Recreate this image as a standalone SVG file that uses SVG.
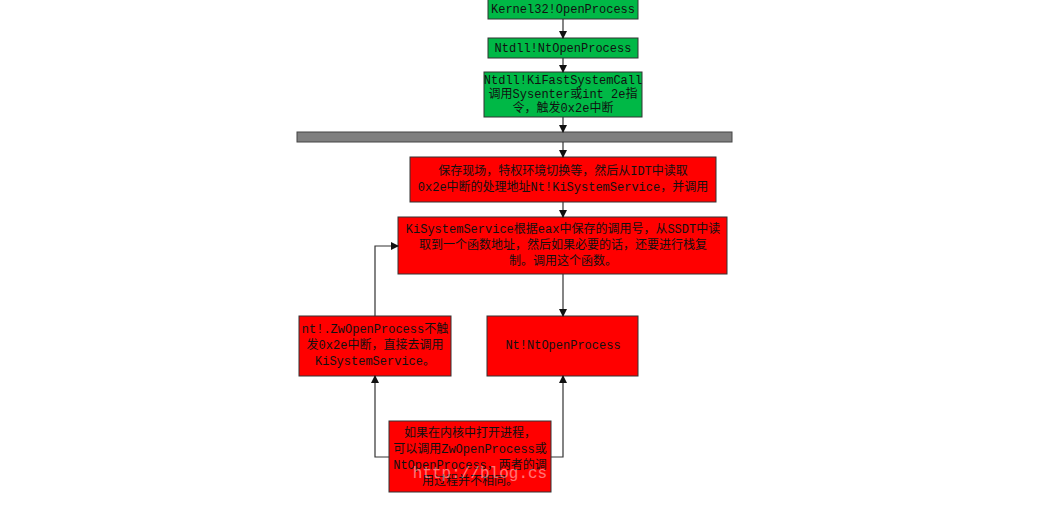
<svg xmlns="http://www.w3.org/2000/svg" width="1044" height="515" viewBox="0 0 1044 515">
<style>
.g{fill:#00b846;stroke:#333;stroke-width:1}
.r{fill:#ff0000;stroke:#333;stroke-width:1}
text{font-family:"Liberation Mono","Noto Sans CJK SC",monospace;font-size:12px;fill:#111;text-anchor:middle}
.c{fill:none;stroke:#333;stroke-width:1.2;marker-end:url(#a)}
</style>
<defs><marker id="a" markerWidth="8" markerHeight="8" refX="7" refY="4" orient="auto" markerUnits="userSpaceOnUse"><path d="M0,0 L8,4 L0,8 z" fill="#111"/></marker></defs>
<rect width="1044" height="515" fill="#fff"/>
<g id="n1"><rect class="g" x="488" y="-2" width="150" height="21"/><text x="563" y="13">Kernel32!OpenProcess</text></g>
<g id="n2"><rect class="g" x="488" y="38" width="150" height="20"/><text x="563" y="52">Ntdll!NtOpenProcess</text></g>
<g id="n3"><rect class="g" x="484" y="72" width="158" height="45"/><text x="563" y="84">Ntdll!KiFastSystemCall</text><text x="563" y="98">调用Sysenter或int 2e指</text><text x="563" y="112">令，触发0x2e中断</text></g>
<g id="bar"><rect x="297" y="132" width="435" height="10" fill="#7f7f7f" stroke="#444"/></g>
<g id="n4"><rect class="r" x="410" y="157" width="306" height="45"/><text x="563" y="175">保存现场，特权环境切换等，然后从IDT中读取</text><text x="563" y="191">0x2e中断的处理地址Nt!KiSystemService，并调用</text></g>
<g id="n5"><rect class="r" x="398" y="217" width="329" height="57"/><text x="563" y="233">KiSystemService根据eax中保存的调用号，从SSDT中读</text><text x="563" y="249">取到一个函数地址，然后如果必要的话，还要进行栈复</text><text x="563" y="265">制。调用这个函数。</text></g>
<g id="n6"><rect class="r" x="299" y="316" width="152" height="60"/><text x="375" y="333">nt!.ZwOpenProcess不触</text><text x="375" y="349">发0x2e中断，直接去调用</text><text x="375" y="365">KiSystemService。</text></g>
<g id="n7"><rect class="r" x="487" y="316" width="151" height="60"/><text x="563" y="349">Nt!NtOpenProcess</text></g>
<g id="n8"><rect class="r" x="389" y="421" width="162" height="71"/><text x="470" y="437">如果在内核中打开进程，</text><text x="470" y="453">可以调用ZwOpenProcess或</text><text x="470" y="469">NtOpenProcess，两者的调</text><text x="470" y="485">用过程并不相同。</text></g>
<g id="edges">
<path class="c" d="M563,19 V38"/>
<path class="c" d="M563,58 V72"/>
<path class="c" d="M563,117 V132"/>
<path class="c" d="M563,142 V157"/>
<path class="c" d="M563,202 V217"/>
<path class="c" d="M563,274 V316"/>
<path class="c" d="M389,457 H375 V376"/>
<path class="c" d="M375,316 V246 H398"/>
<path class="c" d="M551,457 H563 V376"/>
</g>
<text x="480" y="478" style="font-size:16px;fill:#ffffff;opacity:0.45">http://blog.cs</text>
</svg>
